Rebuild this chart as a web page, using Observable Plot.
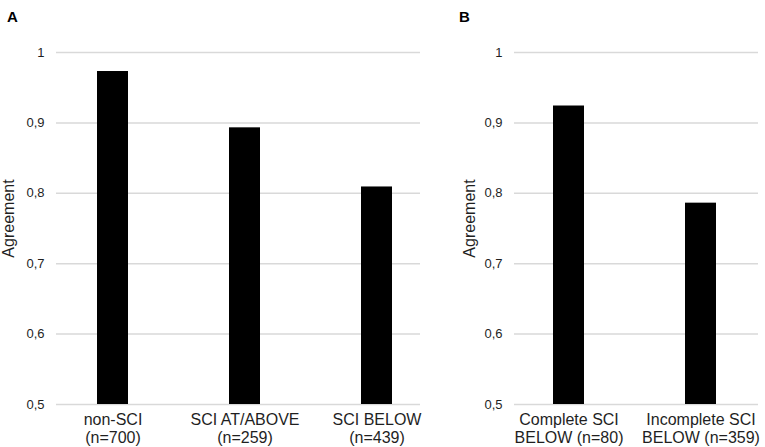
<!DOCTYPE html>
<html>
<head>
<meta charset="utf-8">
<script src="https://cdn.jsdelivr.net/npm/d3@7"></script>
<script src="https://cdn.jsdelivr.net/npm/@observablehq/plot@0.6"></script>
<style>
  html, body { margin: 0; padding: 0; background: #fff; }
  #wrap { position: relative; width: 765px; height: 447px; font-family: "Liberation Sans", Arial, sans-serif; overflow: hidden; }
  .panel { position: absolute; top: 0; z-index: 1; }
  .letter { position: absolute; font-weight: bold; font-size: 15px; color: #000; z-index: 2; }
</style>
</head>
<body>
<div id="wrap">
  <div class="panel" id="pa" style="left:0px;"></div>
  <div class="panel" id="pb" style="left:430px;"></div>
  <div class="letter" id="la" style="left:7px; top:8px;">A</div>
  <div class="letter" id="lb" style="left:459px; top:8px;">B</div>
</div>
<script>
// Panel A data
const catsA = ["non-SCI", "SCI AT/ABOVE", "SCI BELOW"];
const nA = ["n=700", "n=259", "n=439"];
const valuesA = [0.973, 0.893, 0.809];

// Panel B data
const catsB = ["Complete SCI", "Incomplete SCI"];
const nB = ["BELOW (n=80)", "BELOW (n=359)"];
const valuesB = [0.924, 0.786];

// Axis
const yTicks = [0.5, 0.6, 0.7, 0.8, 0.9, 1];
const yDomain = [0.5, 1];
const yLabel = "Agreement";

const fmt = d => String(d).replace(".", ",");
const textColor = "#1f1f1f";

function panel({cats, labels, values, width, marginLeft, marginRight, xRange, labelX}) {
  const data = cats.map((c, i) => ({cat: c, label: labels[i], value: values[i]}));
  const labelMap = new Map(data.map(d => [d.cat, d.label]));
  return Plot.plot({
    width,
    height: 447,
    marginTop: 52,
    marginBottom: 43,
    marginLeft,
    marginRight,
    style: {fontFamily: "'Liberation Sans', Arial, sans-serif", color: textColor, background: "white"},
    x: {type: "band", domain: cats, range: xRange, paddingInner: 0.766, paddingOuter: 0.383},
    y: {domain: yDomain},
    marks: [
      Plot.gridY(yTicks, {stroke: "#d9d9d9", strokeOpacity: 1, strokeWidth: 1.5}),
      Plot.barY(data, {x: "cat", y1: yDomain[0], y2: "value", fill: "black"}),
      Plot.axisY(yTicks, {tickSize: 0, tickPadding: 12, fontSize: 13, tickFormat: fmt, label: null, fill: textColor}),
      Plot.axisX({tickSize: 0, tickPadding: 7, fontSize: 16, lineHeight: 1.15, label: null, fill: textColor,
        tickFormat: c => labelMap.get(c) === undefined ? c : c + "\n" + labelMap.get(c)}),
      Plot.text([yLabel], {text: d => d, frameAnchor: "left", textAnchor: "middle", rotate: -90,
        dx: labelX - marginLeft, dy: -10, fontSize: 16, fill: textColor})
    ]
  });
}

document.getElementById("pa").append(panel({
  cats: catsA,
  labels: nA.map(s => "(" + s + ")"),
  values: valuesA,
  width: 430, marginLeft: 56, marginRight: 10,
  xRange: [45.25, 442.75],
  labelX: 8
}));

document.getElementById("pb").append(panel({
  cats: catsB,
  labels: nB,
  values: valuesB,
  width: 335, marginLeft: 84, marginRight: 7,
  xRange: [72.25, 337.25],
  labelX: 39
}));
</script>
</body>
</html>
